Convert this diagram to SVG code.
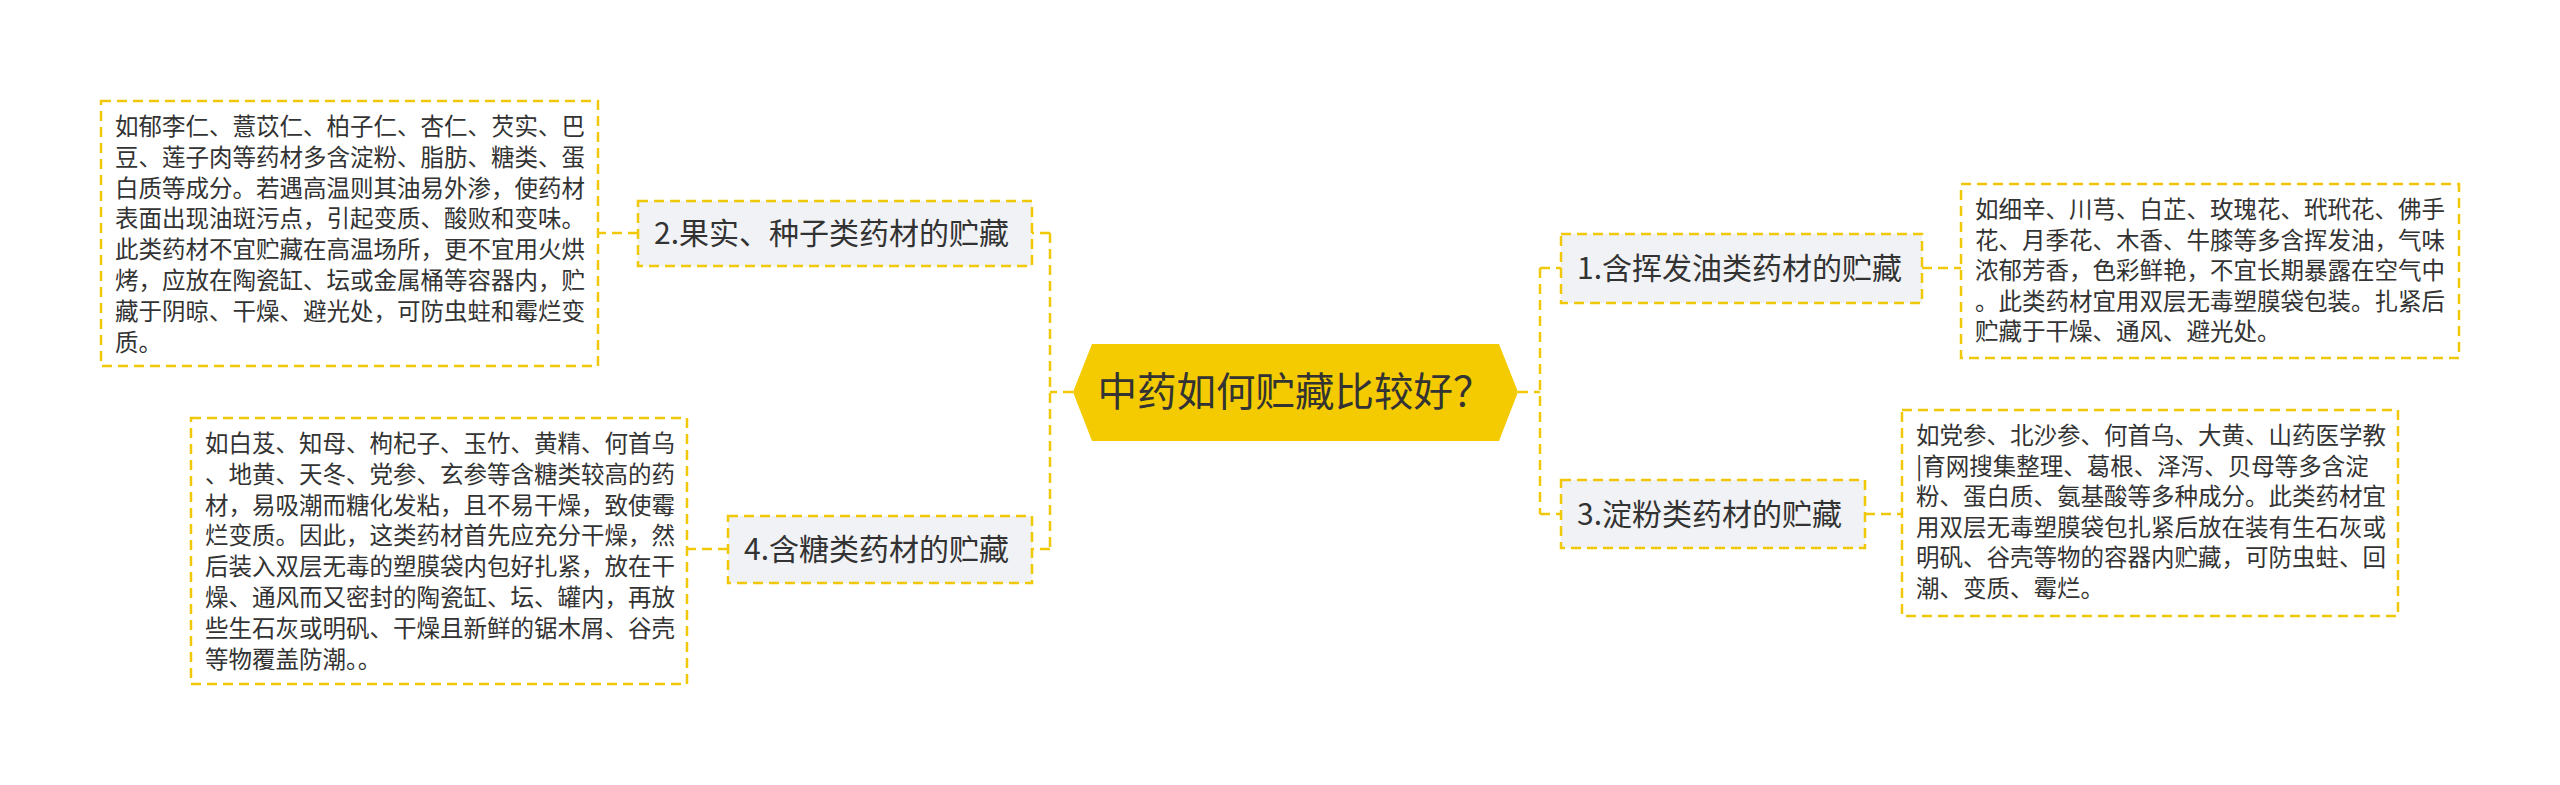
<svg xmlns="http://www.w3.org/2000/svg" width="2560" height="785" viewBox="0 0 2560 785">
<style>
.bg{fill:#ffffff}
.conn{fill:none;stroke:#f0c808;stroke-width:2.5;stroke-dasharray:10 6}
.branch{fill:#f1f2f5;stroke:#f0c808;stroke-width:2.5;stroke-dasharray:10 6}
.detail{fill:#ffffff;stroke:#f0c808;stroke-width:2.5;stroke-dasharray:10 6}
.root{fill:#f4cb00}
.t{font-family:"Microsoft YaHei","Noto Sans CJK SC","Noto Sans",sans-serif;fill:#333333}
.tr{font-size:39.5px;text-anchor:middle}
.tb{font-size:30px}
.td{font-size:23.5px}
</style>
<rect class="bg" x="0" y="0" width="2560" height="785"/>
<g id="connectors">
<path class="conn" d="M1073 392 H1050 M1050 233 V549 M1050 233 H1032 M1050 549 H1032"/>
<path class="conn" d="M1518 392 H1540 M1540 268 V514 M1540 268 H1561 M1540 514 H1561"/>
<path class="conn" d="M638 233 H598"/>
<path class="conn" d="M728 549 H687"/>
<path class="conn" d="M1922 268 H1961"/>
<path class="conn" d="M1865 514 H1902"/>
</g>
<g id="root">
<polygon class="root" points="1073,392 1092,344 1499,344 1518,392 1499,441 1092,441"/>
<text class="t tr" x="1295" y="406">中药如何贮藏比较好？</text>
</g>
<g id="n2">
<rect class="branch" x="638" y="201" width="394" height="65"/>
<text class="t tb" x="654" y="244">2.果实、种子类药材的贮藏</text>
</g>
<g id="n4">
<rect class="branch" x="728" y="516" width="304" height="67"/>
<text class="t tb" x="744" y="560">4.含糖类药材的贮藏</text>
</g>
<g id="n1">
<rect class="branch" x="1561" y="234" width="361" height="69"/>
<text class="t tb" x="1577" y="279">1.含挥发油类药材的贮藏</text>
</g>
<g id="n3">
<rect class="branch" x="1561" y="480" width="304" height="68"/>
<text class="t tb" x="1577" y="525">3.淀粉类药材的贮藏</text>
</g>
<g id="d2">
<rect class="detail" x="101" y="101" width="497" height="265"/>
<text class="t td">
<tspan x="115" y="135">如郁李仁、薏苡仁、柏子仁、杏仁、芡实、巴</tspan>
<tspan x="115" y="165.8">豆、莲子肉等药材多含淀粉、脂肪、糖类、蛋</tspan>
<tspan x="115" y="196.6">白质等成分。若遇高温则其油易外渗，使药材</tspan>
<tspan x="115" y="227.4">表面出现油斑污点，引起变质、酸败和变味。</tspan>
<tspan x="115" y="258.2">此类药材不宜贮藏在高温场所，更不宜用火烘</tspan>
<tspan x="115" y="289">烤，应放在陶瓷缸、坛或金属桶等容器内，贮</tspan>
<tspan x="115" y="319.8">藏于阴晾、干燥、避光处，可防虫蛀和霉烂变</tspan>
<tspan x="115" y="350.6">质。</tspan>
</text>
</g>
<g id="d4">
<rect class="detail" x="191" y="418" width="496" height="266"/>
<text class="t td">
<tspan x="205" y="452">如白芨、知母、枸杞子、玉竹、黄精、何首乌</tspan>
<tspan x="205" y="482.8">、地黄、天冬、党参、玄参等含糖类较高的药</tspan>
<tspan x="205" y="513.6">材，易吸潮而糖化发粘，且不易干燥，致使霉</tspan>
<tspan x="205" y="544.4">烂变质。因此，这类药材首先应充分干燥，然</tspan>
<tspan x="205" y="575.2">后装入双层无毒的塑膜袋内包好扎紧，放在干</tspan>
<tspan x="205" y="606">燥、通风而又密封的陶瓷缸、坛、罐内，再放</tspan>
<tspan x="205" y="636.8">些生石灰或明矾、干燥且新鲜的锯木屑、谷壳</tspan>
<tspan x="205" y="667.6">等物覆盖防潮。。</tspan>
</text>
</g>
<g id="d1">
<rect class="detail" x="1961" y="184" width="498" height="174"/>
<text class="t td">
<tspan x="1975" y="218">如细辛、川芎、白芷、玫瑰花、玳玳花、佛手</tspan>
<tspan x="1975" y="248.5">花、月季花、木香、牛膝等多含挥发油，气味</tspan>
<tspan x="1975" y="279">浓郁芳香，色彩鲜艳，不宜长期暴露在空气中</tspan>
<tspan x="1975" y="309.5">。此类药材宜用双层无毒塑膜袋包装。扎紧后</tspan>
<tspan x="1975" y="340">贮藏于干燥、通风、避光处。</tspan>
</text>
</g>
<g id="d3">
<rect class="detail" x="1902" y="410" width="496" height="206"/>
<text class="t td">
<tspan x="1916" y="444">如党参、北沙参、何首乌、大黄、山药医学教</tspan>
<tspan x="1916" y="474.5">|育网搜集整理、葛根、泽泻、贝母等多含淀</tspan>
<tspan x="1916" y="505">粉、蛋白质、氨基酸等多种成分。此类药材宜</tspan>
<tspan x="1916" y="535.5">用双层无毒塑膜袋包扎紧后放在装有生石灰或</tspan>
<tspan x="1916" y="566">明矾、谷壳等物的容器内贮藏，可防虫蛀、回</tspan>
<tspan x="1916" y="596.5">潮、变质、霉烂。</tspan>
</text>
</g>
</svg>
